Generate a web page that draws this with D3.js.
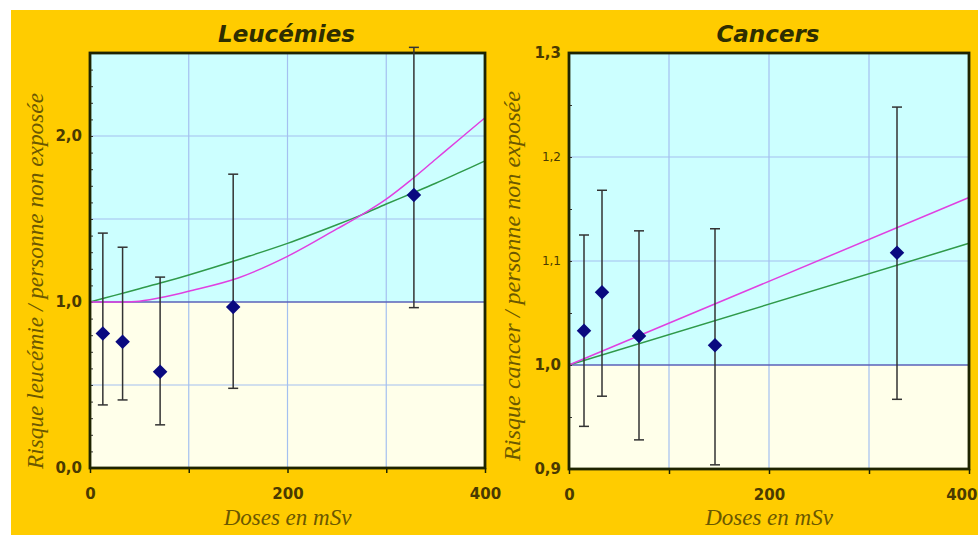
<!doctype html>
<html>
<head>
    <meta charset="utf-8">
    <title>Leucémies et cancers</title>
    <script src="https://cdn.jsdelivr.net/npm/d3@7"></script>
    <style>
        body { margin: 0; background: #fff; }
        .tick text { font-family: "DejaVu Sans", sans-serif; font-size: 15px; font-weight: bold; fill: #4a3a00; }
        .tick text.small { font-size: 12px; font-weight: normal; }
        .title { font-family: "DejaVu Sans", sans-serif; font-weight: bold; font-style: italic; font-size: 23px; fill: #2e2e00; }
        .axis-label { font-family: "Liberation Serif", serif; font-style: italic; font-size: 23px; fill: #6b5800; }
    </style>
</head>
<body>
<div id="chart"></div>
<script>
// points (dose en mSv, risque relatif et intervalle)
var leukDoses = [13, 33, 71, 145, 328];
var leukRR    = [0.81, 0.76, 0.58, 0.97, 1.645];
var leukLow   = [0.38, 0.41, 0.26, 0.48, 0.966];
var leukHigh  = [1.415, 1.33, 1.15, 1.77, 2.534];

var cancerDoses = [15, 33, 70, 146, 328];
var cancerRR    = [1.033, 1.070, 1.028, 1.019, 1.108];
var cancerLow   = [0.941, 0.970, 0.928, 0.904, 0.967];
var cancerHigh  = [1.125, 1.168, 1.129, 1.131, 1.248];

// courbes des modèles
var leukCurveDoses = [0, 25, 50, 75, 100, 150, 200, 250, 275, 300, 325, 350, 375, 400];
var leukGreen      = [1.0, 1.04, 1.08, 1.12, 1.163, 1.255, 1.353, 1.465, 1.525, 1.59, 1.652, 1.715, 1.782, 1.85];
var leukMagenta    = [1.0, 1.0, 1.005, 1.03, 1.065, 1.145, 1.275, 1.44, 1.525, 1.62, 1.735, 1.86, 1.985, 2.11];

var cancerCurveDoses = [0, 400];
var cancerGreen      = [1.0, 1.117];
var cancerMagenta    = [1.0, 1.161];

var xTickValues = [0, 100, 200, 300, 400];
var xTickLabels = [0, 200, 400];

var leukYLabels = [0, 1, 2];
var leukYGrid = [0.5, 1.5, 2.0];
var leukYMinor = d3.range(1, 25).map(function(i){ return i / 10; });

var cancerYLabels = [0.9, 1.0, 1.1, 1.2, 1.3];
var cancerYGrid = [1.1, 1.2];
var cancerYMinor = d3.range(19, 26).map(function(i){ return i / 20; });

var width = 978, height = 535;

var svg = d3.select('#chart').append('svg')
    .attr('width', width)
    .attr('height', height);

svg.append('rect')
    .attr('x', 11).attr('y', 10)
    .attr('width', width - 11).attr('height', height - 10)
    .attr('fill', '#ffcc00');

function fmt(d){
    return d3.format('.1f')(d).replace('.', ',');
}

function drawPanel(p){
    var g = svg.append('g');
    var x = d3.scaleLinear().domain([0, 400]).range([p.left, p.right]);
    var y = d3.scaleLinear().domain(p.yDomain).range([p.bottom, p.top]);

    // fonds : au-dessus et au-dessous de 1
    g.append('rect')
        .attr('x', p.left).attr('y', p.top)
        .attr('width', p.right - p.left).attr('height', y(1) - p.top)
        .attr('fill', '#ccffff');
    g.append('rect')
        .attr('x', p.left).attr('y', y(1))
        .attr('width', p.right - p.left).attr('height', p.bottom - y(1))
        .attr('fill', '#ffffea');

    // grille
    g.selectAll('.vgrid').data([100, 200, 300]).enter().append('line')
        .attr('x1', function(d){ return x(d); }).attr('x2', function(d){ return x(d); })
        .attr('y1', p.top).attr('y2', p.bottom)
        .attr('stroke', '#a4c0f0').attr('stroke-width', 1.2);
    g.selectAll('.hgrid').data(p.yGrid).enter().append('line')
        .attr('x1', p.left).attr('x2', p.right)
        .attr('y1', function(d){ return y(d); }).attr('y2', function(d){ return y(d); })
        .attr('stroke', '#a4c0f0').attr('stroke-width', 1.2);

    // ligne de référence à 1
    g.append('line')
        .attr('x1', p.left).attr('x2', p.right)
        .attr('y1', y(1)).attr('y2', y(1))
        .attr('stroke', '#5b62b8').attr('stroke-width', 1.5);

    // petites graduations internes
    g.append('g')
        .attr('transform', 'translate(' + p.left + ',0)')
        .call(d3.axisRight(y).tickValues(p.yMinor).tickSize(3).tickFormat(''))
        .call(function(s){ s.select('.domain').remove(); s.selectAll('line').attr('stroke', '#333'); });

    // courbes
    var line = d3.line()
        .x(function(d){ return x(d[0]); })
        .y(function(d){ return y(d[1]); })
        .curve(d3.curveCatmullRom);

    g.append('path')
        .datum(d3.zip(p.curveDoses, p.green))
        .attr('d', line)
        .attr('fill', 'none').attr('stroke', '#2f9a4a').attr('stroke-width', 1.5);
    g.append('path')
        .datum(d3.zip(p.curveDoses, p.magenta))
        .attr('d', line)
        .attr('fill', 'none').attr('stroke', '#e040e0').attr('stroke-width', 1.5);

    // cadre
    g.append('rect')
        .attr('x', p.left).attr('y', p.top)
        .attr('width', p.right - p.left).attr('height', p.bottom - p.top)
        .attr('fill', 'none').attr('stroke', '#1e2400').attr('stroke-width', 2.8);

    // axes
    var xAxis = g.append('g')
        .attr('transform', 'translate(0,' + p.bottom + ')')
        .call(d3.axisBottom(x).tickValues(xTickValues).tickSize(5).tickPadding(15)
            .tickFormat(function(d){ return xTickLabels.indexOf(d) >= 0 ? d : ''; }))
        .call(function(s){ s.select('.domain').remove(); s.selectAll('line').attr('stroke', '#1e2400').attr('stroke-width', 1.5); });
    if (p.lastLabelEnd) {
        // le dernier libellé touche le bord de l'image : on l'aligne à droite
        xAxis.selectAll('.tick text').filter(function(d){ return d === 400; })
            .attr('text-anchor', 'end').attr('x', p.lastLabelEnd);
    }

    g.append('g')
        .attr('transform', 'translate(' + p.left + ',0)')
        .call(d3.axisLeft(y).tickValues(p.yLabels).tickSize(0).tickPadding(8).tickFormat(fmt))
        .call(function(s){
            s.select('.domain').remove();
            s.selectAll('.tick text').classed('small', function(d){ return p.smallLabels.indexOf(d) >= 0; });
        });

    // barres d'erreur
    var pts = p.doses.map(function(d, i){
        return { dose: d, rr: p.rr[i], lo: p.low[i], hi: p.high[i] };
    });
    var bars = g.selectAll('.err').data(pts).enter().append('g');
    bars.append('line')
        .attr('x1', function(d){ return x(d.dose); }).attr('x2', function(d){ return x(d.dose); })
        .attr('y1', function(d){ return y(d.lo); }).attr('y2', function(d){ return y(d.hi); })
        .attr('stroke', '#333').attr('stroke-width', 1.5);
    bars.append('line')
        .attr('x1', function(d){ return x(d.dose) - 5; }).attr('x2', function(d){ return x(d.dose) + 5; })
        .attr('y1', function(d){ return y(d.hi); }).attr('y2', function(d){ return y(d.hi); })
        .attr('stroke', '#333').attr('stroke-width', 1.5);
    bars.append('line')
        .attr('x1', function(d){ return x(d.dose) - 5; }).attr('x2', function(d){ return x(d.dose) + 5; })
        .attr('y1', function(d){ return y(d.lo); }).attr('y2', function(d){ return y(d.lo); })
        .attr('stroke', '#333').attr('stroke-width', 1.5);

    // losanges
    g.selectAll('.pt').data(pts).enter().append('path')
        .attr('d', d3.symbol().type(d3.symbolDiamond2).size(135))
        .attr('transform', function(d){ return 'translate(' + x(d.dose) + ',' + y(d.rr) + ')'; })
        .attr('fill', '#0a0a80');

    // textes
    g.append('text')
        .attr('class', 'title')
        .attr('x', (p.left + p.right) / 2 - 1).attr('y', 42)
        .attr('text-anchor', 'middle')
        .text(p.title);

    g.append('text')
        .attr('class', 'axis-label')
        .attr('x', (p.left + p.right) / 2).attr('y', 525)
        .attr('text-anchor', 'middle')
        .text('Doses en mSv');

    g.append('text')
        .attr('class', 'axis-label')
        .attr('transform', 'translate(' + p.yLabelX + ',' + p.yLabelY + ') rotate(-90)')
        .attr('text-anchor', 'middle')
        .attr('textLength', p.yLabelLen).attr('lengthAdjust', 'spacingAndGlyphs')
        .text(p.yLabel);
}

drawPanel({
    title: 'Leucémies',
    left: 90, right: 485, top: 53, bottom: 468,
    yDomain: [0, 2.5],
    yGrid: leukYGrid, yMinor: leukYMinor, yLabels: leukYLabels, smallLabels: [],
    doses: leukDoses, rr: leukRR, low: leukLow, high: leukHigh,
    curveDoses: leukCurveDoses, green: leukGreen, magenta: leukMagenta,
    yLabel: 'Risque leucémie / personne non exposée',
    yLabelX: 43, yLabelY: 281, yLabelLen: 376
});

drawPanel({
    title: 'Cancers',
    left: 569, right: 969, top: 53, bottom: 469,
    yDomain: [0.9, 1.3],
    yGrid: cancerYGrid, yMinor: cancerYMinor, yLabels: cancerYLabels, smallLabels: [1.1, 1.2],
    doses: cancerDoses, rr: cancerRR, low: cancerLow, high: cancerHigh,
    curveDoses: cancerCurveDoses, green: cancerGreen, magenta: cancerMagenta,
    yLabel: 'Risque cancer / personne non exposée',
    yLabelX: 520, yLabelY: 276, yLabelLen: 370,
    lastLabelEnd: 8
});
</script>
</body>
</html>
